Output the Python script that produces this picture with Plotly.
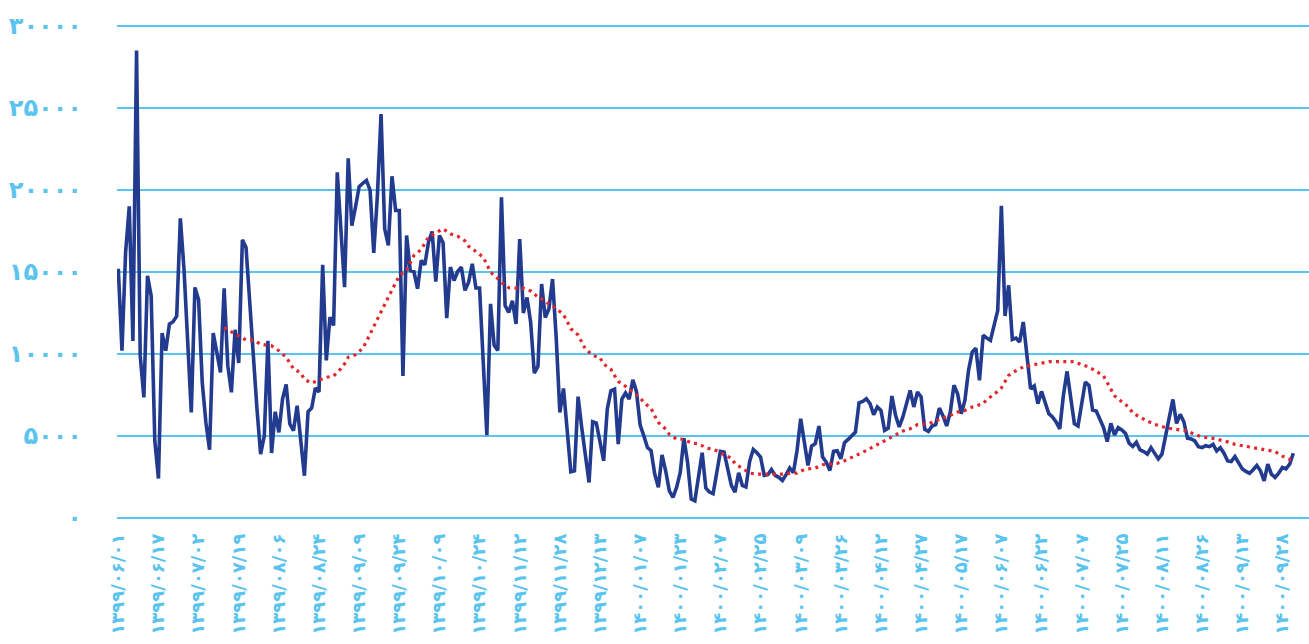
import plotly.graph_objects as go

# ---- data ----
values = [
    15200, 10200, 16200, 19000, 10800, 28500, 9900, 7350, 14770, 13550,
    4710, 2410, 11280, 10200, 11830, 11970, 12300, 18270, 15180, 10800,
    6440, 14060, 13310, 8270, 5830, 4160, 11280, 10100, 8880, 14000,
    9290, 7660, 11480, 9450, 16970, 16500, 13150, 9490, 6640, 3900,
    5010, 10810, 3960, 6480, 5220, 7250, 8150, 5730, 5320, 6850,
    4810, 2580, 6480, 6710, 7930, 7680, 15440, 9610, 12250, 11740,
    21080, 17630, 14080, 21930, 17830, 18950, 20210, 20410, 20580, 19970,
    16170, 19660, 24630, 17630, 16620, 20840, 18750, 18750, 8660, 17230,
    15090, 15030, 13980, 15700, 15440, 16820, 17470, 14420, 17230, 16780,
    12190, 15300, 14480, 15030, 15300, 13880, 14380, 15500, 14020, 14020,
    9510, 5050, 13060, 10530, 10220, 19550, 12950, 12540, 13250, 11830,
    17010, 12500, 13450, 11930, 8840, 9250, 14270, 12230, 12740, 14570,
    11000, 6440, 7900, 5220, 2820, 2880, 7400, 5500, 3800, 2170,
    5870, 5790, 4650, 3490, 6640, 7760, 7860, 4510, 7250, 7620,
    7250, 8430, 7700, 5670, 5020, 4300, 4100, 2680, 1870, 3840,
    2880, 1660, 1260, 1870, 2780, 4860, 3390, 1150, 1050, 2400,
    3980, 1830, 1580, 1480, 2900, 4060, 4020, 2900, 1990, 1580,
    2760, 1990, 1890, 3440, 4180, 3980, 3720, 2600, 2640, 2960,
    2600, 2480, 2290, 2640, 3050, 2760, 4120, 6050, 4630, 3210,
    4390, 4530, 5610, 3720, 3410, 2900, 4060, 4100, 3610, 4590,
    4790, 5000, 5240, 7030, 7110, 7270, 6970, 6300, 6770, 6560,
    5340, 5480, 7440, 6260, 5550, 6160, 6910, 7780, 6770, 7680,
    7380, 5400, 5280, 5610, 5690, 6700, 6220, 5610, 6460, 8090,
    7580, 6360, 7170, 9000, 10120, 10360, 8390, 11140, 10970, 10830,
    11750, 12660, 19030, 12320, 14190, 10890, 10970, 10730, 11950, 10120,
    7880, 8050, 6970, 7720, 6970, 6360, 6160, 5850, 5440, 7480,
    8940, 7380, 5750, 5610, 6870, 8290, 8090, 6580, 6520, 5970,
    5510, 4660, 5770, 5060, 5510, 5370, 5160, 4560, 4360, 4620,
    4150, 4050, 3890, 4290, 3950, 3600, 3890, 5060, 6110, 7230,
    5770, 6320, 5870, 4860, 4820, 4700, 4350, 4290, 4410, 4350,
    4490, 4090, 4290, 3950, 3480, 3440, 3750, 3400, 3000, 2840,
    2730, 2940, 3200, 2880, 2270, 3280, 2670, 2470, 2730, 3080,
    3000, 3280, 3950,
]

avg_idx = [
    29, 31, 33, 35, 37, 39, 42, 44, 46, 48, 50, 51, 53, 55, 57, 59, 61, 62, 63, 65,
    67, 68, 69, 70, 71, 72, 73, 74, 75, 76, 77, 79, 80, 81, 83, 84, 85, 87, 89, 91,
    93, 95, 96, 98, 100, 101, 102, 104, 105, 107, 109, 111, 113, 115, 117, 118, 120, 122, 123, 124,
    126, 127, 128, 130, 132, 133, 135, 136, 137, 139, 141, 143, 144, 146, 147, 148, 150, 151, 153, 155,
    157, 159, 161, 164, 166, 168, 169, 171, 173, 175, 178, 180, 182, 184, 186, 188, 191, 193, 195, 197,
    199, 201, 203, 205, 207, 209, 211, 213, 215, 217, 219, 222, 224, 226, 228, 230, 232, 234, 237, 238,
    240, 242, 243, 244, 246, 248, 250, 253, 255, 257, 260, 262, 264, 266, 268, 270, 271, 272, 273, 275,
    277, 278, 280, 282, 284, 287, 289, 291, 293, 295, 297, 300, 302, 304, 306, 308, 311, 313, 315, 317,
    319, 321, 322,
]
avg_val = [
    11600, 11350, 11100, 10850, 10850, 10600, 10500, 10200, 9800, 9100, 8850, 8450, 8230, 8390, 8580, 8660, 9100, 9400, 9800, 9960,
    10350, 10770, 11240, 11680, 12110, 12600, 13020, 13470, 13940, 14360, 14770, 15110, 15560, 16010, 16370, 16780, 17120, 17390, 17630, 17330,
    17180, 16900, 16570, 16250, 15900, 15460, 14990, 14600, 14370, 14040, 14040, 14000, 13840, 13470, 13230, 13030, 12780, 12400, 11990, 11540,
    11160, 10730, 10300, 9920, 9770, 9390, 9060, 8680, 8330, 8030, 7660, 7330, 7050, 6680, 6240, 5830, 5420, 5100, 4810, 4800,
    4570, 4530, 4290, 4100, 3860, 3650, 3310, 3010, 2740, 2680, 2660, 2650, 2680, 2720, 2740, 2960, 3050, 3250, 3290, 3330,
    3490, 3680, 3900, 4120, 4350, 4570, 4830, 5080, 5300, 5440, 5690, 5750, 5910, 6100, 6260, 6460, 6560, 6770, 6970, 7230,
    7540, 7930, 8330, 8700, 8980, 9210, 9310, 9450, 9530, 9530, 9510, 9530, 9350, 9210, 8940, 8660, 8260, 7830, 7450, 7090,
    6740, 6400, 6130, 5910, 5710, 5510, 5430, 5340, 5300, 5100, 4940, 4860, 4760, 4640, 4490, 4410, 4310, 4230, 4150, 4050,
    3770, 3600, 3480,
]

tick_labels = [
    "۱۳۹۹/۰۶/۰۱", "۱۳۹۹/۰۶/۱۷", "۱۳۹۹/۰۷/۰۲", "۱۳۹۹/۰۷/۱۹", "۱۳۹۹/۰۸/۰۶",
    "۱۳۹۹/۰۸/۲۴", "۱۳۹۹/۰۹/۰۹", "۱۳۹۹/۰۹/۲۴", "۱۳۹۹/۱۰/۰۹", "۱۳۹۹/۱۰/۲۴",
    "۱۳۹۹/۱۱/۱۲", "۱۳۹۹/۱۱/۲۸", "۱۳۹۹/۱۲/۱۳", "۱۴۰۰/۰۱/۰۷", "۱۴۰۰/۰۱/۲۳",
    "۱۴۰۰/۰۲/۰۷", "۱۴۰۰/۰۲/۲۵", "۱۴۰۰/۰۳/۰۹", "۱۴۰۰/۰۳/۲۶", "۱۴۰۰/۰۴/۱۲",
    "۱۴۰۰/۰۴/۲۷", "۱۴۰۰/۰۵/۱۷", "۱۴۰۰/۰۶/۰۷", "۱۴۰۰/۰۶/۲۲", "۱۴۰۰/۰۷/۰۷",
    "۱۴۰۰/۰۷/۲۵", "۱۴۰۰/۰۸/۱۱", "۱۴۰۰/۰۸/۲۶", "۱۴۰۰/۰۹/۱۳", "۱۴۰۰/۰۹/۲۸",
]
label_step = 11

y_tick_vals = [0, 5000, 10000, 15000, 20000, 25000, 30000]
y_tick_text = ["۰", "۵۰۰۰", "۱۰۰۰۰", "۱۵۰۰۰", "۲۰۰۰۰", "۲۵۰۰۰", "۳۰۰۰۰"]

# ---- styles ----
BLUE = "#233b8e"
RED = "#e4262c"
LIGHT = "#5bc4ee"

x_idx = list(range(len(values)))

fig = go.Figure()
fig.add_trace(go.Scatter(
    x=x_idx, y=values, mode="lines",
    line=dict(color=BLUE, width=3.6), hoverinfo="skip",
))
fig.add_trace(go.Scatter(
    x=avg_idx, y=avg_val, mode="lines",
    line=dict(color=RED, width=3.2, dash="3px,4.3px"), hoverinfo="skip",
))

fig.update_layout(
    width=1309, height=644,
    margin=dict(l=117, r=0, t=21, b=121),
    paper_bgcolor="white", plot_bgcolor="white",
    showlegend=False,
    xaxis=dict(
        range=[-0.36, 326.3],
        tickvals=[i * label_step for i in range(len(tick_labels))],
        ticktext=tick_labels,
        tickangle=-90,
        tickfont=dict(family="DejaVu Sans", size=18, color=LIGHT, weight="bold"),
        showgrid=False, zeroline=False, showline=False,
        ticks="", ticklabelstandoff=6,
    ),
    yaxis=dict(
        range=[-305, 30305],
        tickvals=y_tick_vals, ticktext=y_tick_text,
        tickfont=dict(family="DejaVu Sans", size=24, color=LIGHT, weight="bold"),
        showgrid=True, gridcolor=LIGHT, gridwidth=2,
        zeroline=False, showline=False, ticks="",
        ticklabelstandoff=34,
    ),
)

fig.write_html("out.html")
